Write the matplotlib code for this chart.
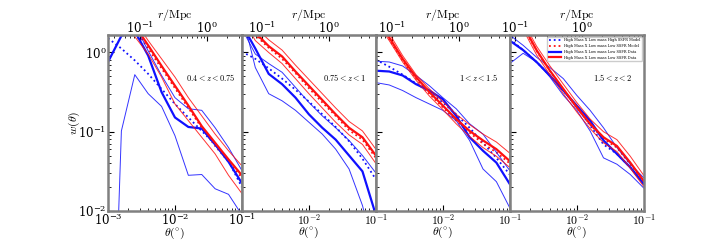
import numpy as np
import matplotlib
matplotlib.use("Agg")
import matplotlib.pyplot as plt
from matplotlib.ticker import NullFormatter

plt.rcParams['mathtext.fontset'] = 'cm'
plt.rcParams['font.family'] = ['DejaVu Serif']

# log10(theta/deg) sampling points
log_theta = [-3.0, -2.8, -2.6, -2.4, -2.2, -2.0, -1.8, -1.6, -1.4, -1.2, -1.0]

z_labels = [r'$0.4 < z < 0.75$', r'$0.75 < z < 1$', r'$1 < z < 1.5$', r'$1.5 < z < 2$']
# Mpc per degree for the top axis
r_per_deg = [33, 50, 58, 84]

# log10 w(theta), one row per redshift bin
blue_model = [
    [0.18, 0.05, -0.10, -0.27, -0.46, -0.65, -0.82, -0.99, -1.16, -1.37, -1.70],
    [0.01, -0.08, -0.20, -0.33, -0.47, -0.62, -0.78, -0.94, -1.12, -1.34, -1.60],
    [-0.09, -0.18, -0.28, -0.39, -0.50, -0.63, -0.78, -0.95, -1.14, -1.33, -1.54],
    [0.17, 0.03, -0.12, -0.29, -0.48, -0.69, -0.92, -1.16, -1.28, -1.45, -1.64],
]
blue_data = [
    [-0.12, 0.21, 0.27, -0.04, -0.50, -0.82, -0.94, -0.96, -1.16, -1.38, -1.65],
    [0.35, 0.05, -0.27, -0.40, -0.57, -0.78, -0.95, -1.10, -1.30, -1.50, -2.05],
    [-0.23, -0.24, -0.29, -0.40, -0.48, -0.59, -0.80, -1.07, -1.24, -1.39, -1.66],
    [0.15, 0.03, -0.12, -0.29, -0.48, -0.67, -0.86, -1.11, -1.28, -1.45, -1.66],
]
blue_hi = [
    [0.30, 0.40, 0.35, 0.02, -0.29, -0.57, -0.71, -0.73, -0.95, -1.20, -1.49],
    [0.30, -0.02, -0.14, -0.25, -0.44, -0.63, -0.80, -0.95, -1.11, -1.30, -1.52],
    [-0.11, -0.12, -0.17, -0.29, -0.42, -0.57, -0.71, -0.90, -1.03, -1.26, -1.49],
    [0.22, 0.09, -0.06, -0.19, -0.33, -0.54, -0.73, -0.95, -1.20, -1.41, -1.58],
]
blue_lo = [
    [-6.0, -0.99, -0.28, -0.52, -0.68, -1.05, -1.55, -1.54, -1.72, -1.79, -2.05],
    [0.50, -0.19, -0.52, -0.61, -0.73, -0.88, -1.03, -1.22, -1.47, -1.93, -2.60],
    [-0.38, -0.41, -0.48, -0.57, -0.65, -0.73, -0.86, -1.11, -1.47, -1.63, -1.96],
    [-0.14, -0.01, -0.12, -0.31, -0.54, -0.73, -0.99, -1.33, -1.41, -1.54, -1.71],
]
red_model = [
    [0.80, 0.55, 0.30, 0.05, -0.20, -0.45, -0.70, -0.95, -1.18, -1.38, -1.58],
    [0.50, 0.22, 0.06, -0.08, -0.26, -0.45, -0.63, -0.80, -0.98, -1.10, -1.33],
    [0.43, 0.17, -0.10, -0.33, -0.52, -0.69, -0.86, -1.01, -1.15, -1.26, -1.40],
    [0.52, 0.33, 0.02, -0.23, -0.47, -0.70, -0.91, -1.09, -1.20, -1.41, -1.64],
]
red_data = [
    [0.84, 0.59, 0.34, 0.09, -0.17, -0.42, -0.67, -0.93, -1.14, -1.35, -1.55],
    [0.55, 0.25, 0.08, -0.05, -0.24, -0.42, -0.60, -0.78, -0.95, -1.07, -1.30],
    [0.45, 0.19, -0.08, -0.31, -0.50, -0.67, -0.84, -0.99, -1.11, -1.22, -1.37],
    [0.53, 0.34, 0.03, -0.23, -0.46, -0.69, -0.90, -1.07, -1.18, -1.39, -1.62],
]
red_hi = [
    [0.90, 0.65, 0.40, 0.15, -0.08, -0.31, -0.57, -0.80, -1.03, -1.24, -1.43],
    [0.62, 0.32, 0.16, 0.03, -0.16, -0.34, -0.52, -0.70, -0.87, -0.99, -1.22],
    [0.50, 0.24, -0.04, -0.28, -0.46, -0.62, -0.78, -0.91, -1.03, -1.13, -1.27],
    [0.58, 0.39, 0.08, -0.17, -0.40, -0.63, -0.84, -1.00, -1.10, -1.31, -1.55],
]
red_lo = [
    [0.70, 0.45, 0.20, -0.02, -0.31, -0.65, -0.86, -1.07, -1.28, -1.55, -1.78],
    [0.45, 0.15, 0.00, -0.14, -0.33, -0.52, -0.70, -0.88, -1.04, -1.16, -1.40],
    [0.40, 0.15, -0.12, -0.35, -0.55, -0.72, -0.90, -1.06, -1.20, -1.31, -1.45],
    [0.48, 0.29, -0.03, -0.28, -0.52, -0.75, -0.96, -1.14, -1.25, -1.46, -1.69],
]

theta = 10 ** np.array(log_theta)
blue = '#1010ff'
red = '#ff1010'

fig, axes = plt.subplots(1, 4, figsize=(7.2, 2.4), dpi=100, sharey=True)
fig.subplots_adjust(left=0.15, right=0.894, bottom=0.121, top=0.854, wspace=0)

for i, ax in enumerate(axes):
    ax.plot(theta, 10 ** np.array(blue_model[i]), color=blue, ls=':', lw=1.3,
            label='High Mass X Low mass High SSFR Model')
    ax.plot(theta, 10 ** np.array(red_model[i]), color=red, ls=':', lw=1.3,
            label='High Mass X Low mass Low SSFR Model')
    ax.plot(theta, 10 ** np.array(blue_data[i]), color=blue, lw=1.6,
            label='High Mass X Low mass Low SSFR Data')
    ax.plot(theta, 10 ** np.array(blue_hi[i]), color=blue, lw=0.7, alpha=0.85)
    ax.plot(theta, 10 ** np.array(blue_lo[i]), color=blue, lw=0.7, alpha=0.85)
    ax.plot(theta, 10 ** np.array(red_data[i]), color=red, lw=1.6,
            label='High Mass X Low mass Low SSFR Data')
    ax.plot(theta, 10 ** np.array(red_hi[i]), color=red, lw=0.7, alpha=0.85)
    ax.plot(theta, 10 ** np.array(red_lo[i]), color=red, lw=0.7, alpha=0.85)

    ax.set_xscale('log')
    ax.set_yscale('log')
    ax.set_xlim(1e-3, 1e-1)
    ax.set_ylim(1e-2, 1.66)
    ax.text(0.77, 0.76, z_labels[i], transform=ax.transAxes, ha='center',
            va='center', fontsize=6)
    ax.set_xlabel(r'$\theta(^{\circ})$', fontsize=8.5, labelpad=-1.5)
    for s in ax.spines.values():
        s.set_color('#808080')
        s.set_linewidth(1.8)
    ax.tick_params(which='both', direction='in', labelsize=8.5, pad=1)
    ax.tick_params(which='major', length=4)
    ax.tick_params(which='minor', length=2)
    ax.set_xticks([1e-3, 1e-2, 1e-1])
    if i > 0:
        ax.set_xticklabels(['', r'$10^{-2}$', r'$10^{-1}$'])

    k = r_per_deg[i]
    sec = ax.secondary_xaxis('top', functions=(lambda t, k=k: t * k,
                                              lambda r, k=k: r / k))
    sec.set_xticks([0.1, 1.0])
    sec.xaxis.set_minor_formatter(NullFormatter())
    sec.set_xlabel(r'$r/\mathrm{Mpc}$', fontsize=8.5, labelpad=2)
    sec.tick_params(which='both', direction='in', labelsize=8.5, pad=-1)
    sec.tick_params(which='major', length=4)
    sec.tick_params(which='minor', length=2)

axes[0].set_ylabel(r'$w(\theta)$', fontsize=8.5, labelpad=-2.5)
axes[3].legend(loc='upper right', fontsize=2.6, frameon=True, framealpha=1,
               edgecolor='#cccccc', borderpad=0.4, handlelength=3.5,
               labelspacing=0.5)

fig.savefig('out.png', dpi=100)
